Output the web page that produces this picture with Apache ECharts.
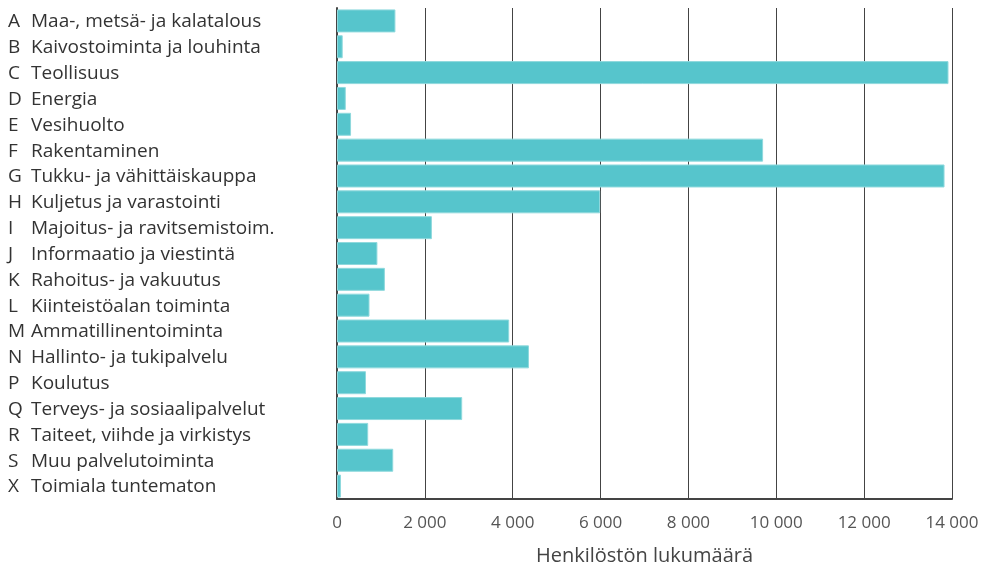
<!DOCTYPE html>
<html><head><meta charset="utf-8">
<script src="https://cdn.jsdelivr.net/npm/echarts@6/dist/echarts.min.js"></script>
<style>html,body{margin:0;padding:0;background:#fff}#c{width:987px;height:571px}</style>
</head><body><div id="c"></div>
<script>
const codes = ["A","B","C","D","E","F","G","H","I","J","K","L","M","N","P","Q","R","S","X"];
const names = ["Maa-, metsä- ja kalatalous","Kaivostoiminta ja louhinta","Teollisuus","Energia","Vesihuolto","Rakentaminen","Tukku- ja vähittäiskauppa","Kuljetus ja varastointi","Majoitus- ja ravitsemistoim.","Informaatio ja viestintä","Rahoitus- ja vakuutus","Kiinteistöalan toiminta","Ammatillinentoiminta","Hallinto- ja tukipalvelu","Koulutus","Terveys- ja sosiaalipalvelut","Taiteet, viihde ja virkistys","Muu palvelutoiminta","Toimiala tuntematon"];
const values = [1330,130,13920,200,320,9700,13830,5990,2160,920,1090,740,3920,4370,660,2850,710,1280,90];
const xTicks = [0,2000,4000,6000,8000,10000,12000,14000];
const xTitle = "Henkilöstön lukumäärä";

const categories = codes.map((c,i)=>c+"|"+names[i]);
const chart = echarts.init(document.getElementById('c'));
const font = '"Open Sans", sans-serif';
chart.setOption({
  animation:false,
  grid:{left:337,right:35,top:8,bottom:65,containLabel:false},
  xAxis:{type:'value',min:xTicks[0],max:xTicks[xTicks.length-1],interval:2000,
    axisLine:{show:true,lineStyle:{color:'#444',width:2}},
    axisTick:{show:false},
    splitLine:{show:true,lineStyle:{color:'#444',width:1}},
    axisLabel:{color:'#555',fontSize:17,fontFamily:font,margin:16,
      formatter:v=>String(v).replace(/\B(?=(\d{3})+(?!\d))/g,' ')},
    name:xTitle,nameLocation:'middle',nameGap:47,
    nameTextStyle:{color:'#444',fontSize:20,fontFamily:font}},
  yAxis:{type:'category',data:categories,inverse:true,
    axisLine:{show:true,lineStyle:{color:'#444',width:2}},
    axisTick:{show:false},splitLine:{show:false},
    axisLabel:{align:'left',margin:329,interval:0,padding:[2,0,0,0],
      formatter:v=>{const p=v.split('|');return '{c|'+p[0]+'}{n|'+p[1]+'}';},
      rich:{c:{width:23,fontSize:19,color:'#333',fontFamily:font},
            n:{fontSize:19,color:'#333',fontFamily:font}}}},
  series:[{type:'bar',data:values,barCategoryGap:'11%',
    itemStyle:{color:'#56C5CC',borderColor:'#8fd9dd',borderWidth:1}}]
});
</script></body></html>
